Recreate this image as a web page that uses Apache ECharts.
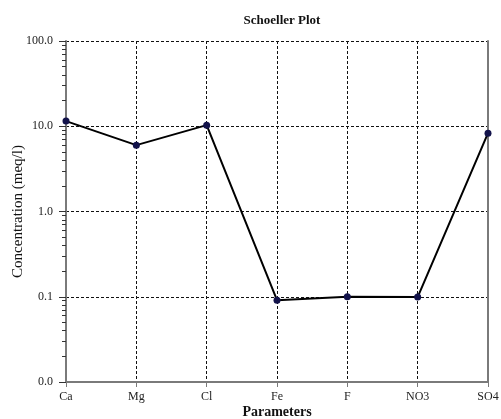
<!DOCTYPE html>
<html>
<head>
<meta charset="utf-8">
<script src="https://cdn.jsdelivr.net/npm/echarts@6/dist/echarts.min.js"></script>
<style>
  html, body { margin: 0; padding: 0; background: #fff; }
  #chart-container { width: 501px; height: 419px; }
</style>
</head>
<body>
<div id="chart-container"></div>
<script>
var dom = document.getElementById("chart-container");
var myChart = echarts.init(dom, null, { renderer: "canvas" });

var categories = ["Ca", "Mg", "Cl", "Fe", "F", "NO3", "SO4"];
var concentration = [11.5, 6.0, 10.3, 0.091, 0.1, 0.099, 8.3];
var decades = [0.01, 0.1, 1, 10];
// minor ticks 2..9 in each decade, placed on a linear axis in log10 units
var minorTicks = [];
decades.forEach(function (d) {
  for (var k = 2; k <= 9; k++) minorTicks.push(Math.log10(d * k));
});

var fontFamily = "'Liberation Serif', 'DejaVu Serif', serif";
var axisGray = "#7a7a7a";

var option = {
  backgroundColor: "#fff",
  title: {
    text: "Schoeller Plot",
    left: 277,
    textAlign: "center",
    top: 9,
    textStyle: { fontFamily: fontFamily, fontSize: 13, fontWeight: "bold", color: "#111" },
  },
  grid: { left: 66, right: 13, top: 41, bottom: 37, containLabel: false, outerBoundsMode: "none" },
  xAxis: {
    type: "category",
    data: categories,
    boundaryGap: false,
    name: "Parameters",
    nameLocation: "middle",
    nameGap: 23,
    nameMoveOverlap: false,
    nameTextStyle: { fontFamily: fontFamily, fontSize: 14, fontWeight: "bold", color: "#111" },
    axisLine: { onZero: false, lineStyle: { color: axisGray, width: 2 } },
    axisTick: { show: true, length: 5, alignWithLabel: true, lineStyle: { color: axisGray } },
    axisLabel: { fontFamily: fontFamily, fontSize: 12, color: "#222", margin: 9 },
    splitLine: { show: true, lineStyle: { color: "#111", type: [3, 2], width: 1 } },
  },
  yAxis: [
    {
      type: "log",
      logBase: 10,
      min: 0.01,
      max: 100,
      interval: 1,
      name: "Concentration (meq/l)",
      nameLocation: "middle",
      nameRotate: 90,
      nameGap: 40,
      nameMoveOverlap: false,
      nameTextStyle: { fontFamily: fontFamily, fontSize: 15, color: "#111" },
      axisLine: { show: true, lineStyle: { color: axisGray, width: 2 } },
      axisTick: { show: true, length: 7, lineStyle: { color: "#333" } },
      axisLabel: {
        fontFamily: fontFamily,
        fontSize: 12,
        color: "#222",
        margin: 13,
        formatter: function (v) { return v.toFixed(1); },
      },
      splitLine: { show: true, lineStyle: { color: "#111", type: [3, 2], width: 1 } },
    },
    {
      type: "value",
      min: -2,
      max: 2,
      position: "left",
      axisLine: { show: false },
      axisTick: { show: true, length: 4, customValues: minorTicks, lineStyle: { color: "#333" } },
      axisLabel: { show: false },
      splitLine: { show: false },
    },
    {
      type: "value",
      min: -2,
      max: 2,
      position: "right",
      axisLine: { show: true, lineStyle: { color: axisGray, width: 2 } },
      axisTick: { show: false },
      axisLabel: { show: false },
      splitLine: { show: false },
    },
  ],
  series: [
    {
      type: "line",
      data: concentration,
      yAxisIndex: 0,
      symbol: "circle",
      symbolSize: 7,
      itemStyle: { color: "#12124a" },
      lineStyle: { color: "#000", width: 2 },
      animation: false,
    },
  ],
};

myChart.setOption(option);
window.addEventListener("resize", myChart.resize);
</script>
</body>
</html>
